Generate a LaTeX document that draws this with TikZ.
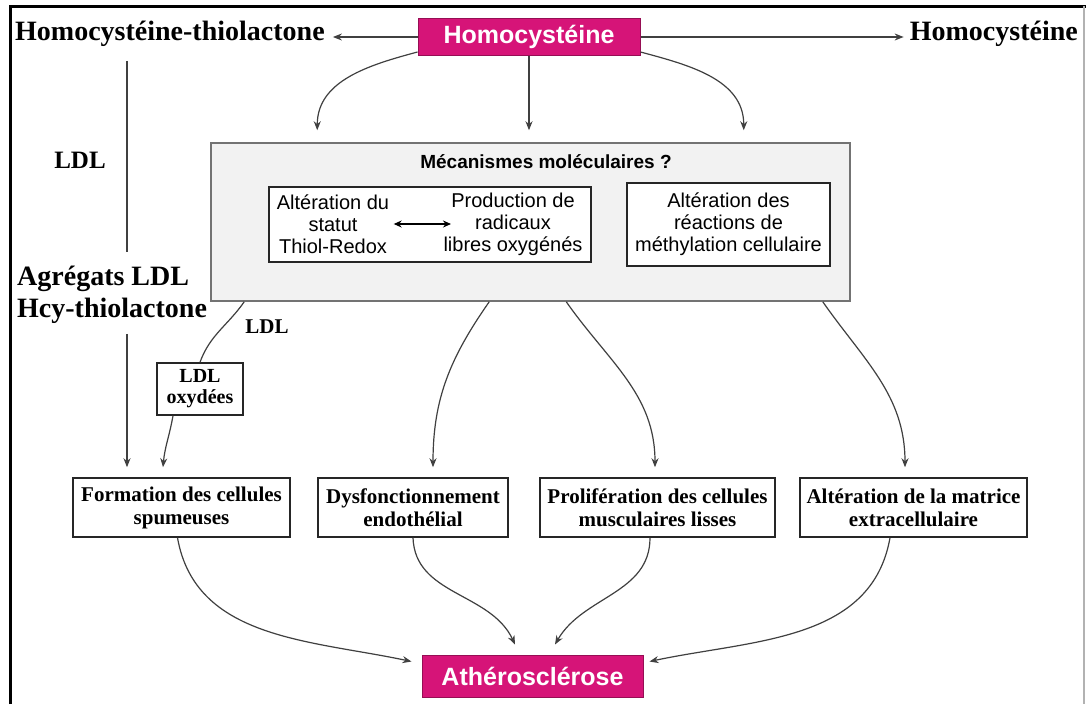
\documentclass[tikz,border=0pt]{standalone}
\usepackage{fontspec}
\setmainfont{Liberation Serif}
\setsansfont{Liberation Sans}
\usetikzlibrary{arrows.meta,calc}
\definecolor{hcypink}{RGB}{214,20,120}
\definecolor{mechfill}{RGB}{242,242,242}
\begin{document}
\begin{tikzpicture}[x=1pt,y=-1pt,
  conn/.style={draw=black!75, line width=1.2pt},
  arr/.style={conn, -{Stealth[length=9pt,width=7pt]}},
  pinkbox/.style={draw=hcypink!70!black, line width=1pt, fill=hcypink, text=white,
     font=\sffamily\bfseries\fontsize{25}{28}\selectfont, inner sep=0pt},
  bigtext/.style={font=\bfseries\fontsize{28}{32}\selectfont, inner sep=0pt},
  mechbox/.style={draw=black!55, line width=1.5pt, fill=mechfill},
  innerbox/.style={draw=black!85, line width=1.5pt, fill=white, align=center,
     font=\sffamily\fontsize{20}{22}\selectfont},
  smalltext/.style={font=\sffamily\fontsize{20}{22}\selectfont, align=center},
  botbox/.style={draw=black!85, line width=1.5pt, fill=white, align=center,
     minimum height=59pt, inner sep=0pt, font=\bfseries\fontsize{21}{23}\selectfont}
]
\useasboundingbox (0,0) rectangle (1086,704);
\fill[white] (0,0) rectangle (1086,704);
\draw[line width=3pt] (10,704) -- (10,6) -- (1086,6);
\draw[black!30, line width=1.5pt] (1084,6) -- (1084,704);

% top row
\node[pinkbox, minimum width=222pt, minimum height=37pt] (hcy) at (529,37) {Homocystéine};
\node[bigtext, anchor=west] (thiol) at (15,34) {Homocystéine-thiolactone};
\node[bigtext, anchor=east] (rhcy) at (1078,34) {Homocystéine};
\draw[arr] (hcy.west) -- ([xshift=8pt]hcy.west -| thiol.east);
\draw[arr] (hcy.east) -- ([xshift=-6pt]hcy.east -| rhcy.west);

% left column
\coordinate (vx) at (127,0);
\node[font=\bfseries\fontsize{25}{28}\selectfont] (ldl1) at (80,160) {LDL};
\node[bigtext, anchor=west, align=left] (agg) at (17,295) {Agrégats LDL\\Hcy-thiolactone};
\draw[conn] ([yshift=-14pt]thiol.south -| vx) -- ([yshift=14pt]agg.north -| vx);

% mechanisms box
\node[mechbox, minimum width=639pt, minimum height=158pt] (mech) at (530.5,222) {};
\node[font=\sffamily\bfseries\fontsize{19}{22}\selectfont] (mtitle) at (546,162) {Mécanismes moléculaires ?};
\node[innerbox, minimum width=322pt, minimum height=75pt] (b1) at (430,224.5) {};
\node[smalltext] (alt) at (333,224) {Altération du\\statut\\Thiol-Redox};
\node[smalltext] (prod) at (513,224) {Production de\\radicaux\\libres oxygénés};
\draw[line width=1.4pt, {Stealth[length=8pt,width=7pt]}-{Stealth[length=8pt,width=7pt]}]
   ([xshift=1pt]alt.east) -- ([xshift=11pt]prod.west);
\node[innerbox, minimum width=203pt, minimum height=83pt] (b2) at (728.5,224.5)
   {Altération des\\réactions de\\méthylation cellulaire};

% arrows from Homocysteine to mechanisms
\draw[arr] ([yshift=4pt]hcy.south west) to[out=195,in=90] ([xshift=107pt,yshift=12pt]mech.north west);
\draw[arr] (hcy.south) -- ([yshift=12pt]hcy.south |- mech.north);
\draw[arr] ([yshift=4pt]hcy.south east) to[out=-15,in=90] ([xshift=-107pt,yshift=12pt]mech.north east);

% bottom boxes
\node[botbox, minimum width=217pt] (formA) at (181.5,507.5) {Formation des cellules\\spumeuses};
\node[botbox, minimum width=190pt] (formB) at (413,507.5) {Dysfonctionnement\\endothélial};
\node[botbox, minimum width=235pt] (formC) at (657.5,507.5) {Prolifération des cellules\\musculaires lisses};
\node[botbox, minimum width=227pt] (formD) at (913.5,507.5) {Altération de la matrice\\extracellulaire};

% LDL path
\node[font=\bfseries\fontsize{21}{24}\selectfont] (ldl2) at (267,327) {LDL};
\node[draw=black!85, line width=1.5pt, fill=white, minimum width=86pt, minimum height=52pt,
      inner sep=0pt, align=center, font=\bfseries\fontsize{20}{21}\selectfont] (ox) at (200,389) {LDL\\oxydées};
\draw[conn] ([xshift=34pt]mech.south west) to[out=-125,in=70] (ox.north);
\draw[arr] ([xshift=-27pt]ox.south) to[out=-100,in=85] ([xshift=-18.5pt,yshift=10pt]formA.north);
\draw[arr] ([yshift=-10pt]agg.south -| vx) -- ([yshift=10pt]formA.north -| vx);

% from mechanisms to effects
\draw[arr] ([xshift=279pt]mech.south west) to[out=-125,in=90] ([xshift=20pt,yshift=10pt]formB.north);
\draw[arr] ([xshift=356pt]mech.south west) to[out=-55,in=90] ([xshift=-2.5pt,yshift=10pt]formC.north);
\draw[arr] ([xshift=-28pt]mech.south east) to[out=-55,in=90] ([xshift=-8.5pt,yshift=10pt]formD.north);

% atherosclerosis
\node[pinkbox, font=\sffamily\bfseries\fontsize{25}{28}\selectfont, minimum width=221pt, minimum height=42pt] (athe) at (532.5,676) {Athérosclérose};
\draw[arr] ([xshift=-4pt]formA.south) to[out=-80,in=168] ([xshift=-10pt,yshift=-7pt]athe.north west);
\draw[arr] (formB.south) to[out=-88,in=115] ([xshift=-17.5pt,yshift=10pt]athe.north);
\draw[arr] ([xshift=-7.5pt]formC.south) to[out=-90,in=60] ([xshift=22.5pt,yshift=10pt]athe.north);
\draw[arr] ([xshift=-23.5pt]formD.south) to[out=-100,in=12] ([xshift=6pt,yshift=-7pt]athe.north east);
\end{tikzpicture}
\end{document}
